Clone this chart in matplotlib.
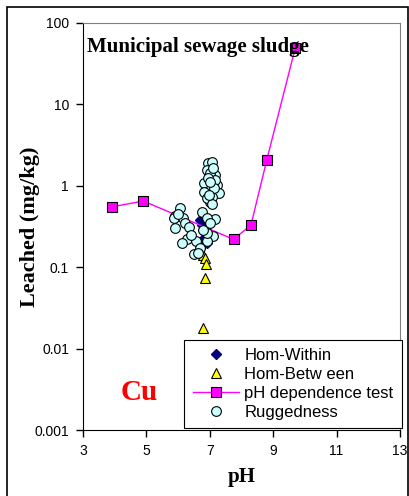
import matplotlib
matplotlib.use("Agg")
import matplotlib.pyplot as plt
from matplotlib.patches import Rectangle

# Hom-Within
hw_ph = [6.70, 6.75, 6.80, 6.85, 6.80, 6.70, 6.90]
hw_val = [0.38, 0.33, 0.29, 0.26, 0.22, 0.17, 0.20]

# Hom-Between
hb_ph = [6.80, 6.84, 6.88, 6.86, 6.78]
hb_val = [0.14, 0.13, 0.11, 0.074, 0.018]

# pH dependence test
ph_ph = [3.9, 4.9, 7.75, 8.3, 8.8, 9.7]
ph_val = [0.55, 0.65, 0.22, 0.33, 2.1, 50.0]

# Ruggedness
rg_ph = [6.94, 7.06, 6.90, 7.16, 7.02, 6.81, 7.02, 7.22, 7.29, 6.81, 7.02, 7.06,
         6.90, 7.16, 7.10, 6.95, 7.12, 7.00, 7.08, 6.98,
         6.06, 5.91, 5.86, 6.17, 6.23, 5.91, 6.33, 6.75, 7.16, 6.90, 7.10, 6.27,
         6.55, 6.90, 6.49, 6.70, 6.90, 6.80, 6.00, 6.12, 6.40, 6.62, 7.00]
rg_val = [1.92, 1.97, 1.57, 1.37, 1.44, 1.09, 0.89, 1.03, 0.82, 0.84, 0.64, 0.73,
          0.71, 1.18, 1.65, 1.25, 0.95, 1.10, 0.60, 0.78,
          0.53, 0.43, 0.40, 0.40, 0.35, 0.30, 0.31, 0.47, 0.39, 0.40, 0.24, 0.22,
          0.21, 0.21, 0.146, 0.17, 0.26, 0.29, 0.45, 0.20, 0.25, 0.15, 0.35]

xticks = [3, 5, 7, 9, 11, 13]
yticks = [0.001, 0.01, 0.1, 1, 10, 100]
ytick_labels = ["0.001", "0.01", "0.1", "1", "10", "100"]

W, H = 409, 496
fig = plt.figure(figsize=(W / 100, H / 100), dpi=100)
ax = fig.add_axes([83 / W, 1 - 430 / H, 317 / W, 407 / H])

ax.plot(hw_ph, hw_val, linestyle="none", marker="D", ms=5, color="#000080",
        mec="#000080", label="Hom-Within")
ax.plot(hb_ph, hb_val, linestyle="none", marker="^", ms=7, color="#FFFF00",
        mec="black", mew=0.8, label="Hom-Betw een")
ax.plot(ph_ph, ph_val, color="#FF00FF", lw=1, marker="s", ms=7,
        mfc="#FF00FF", mec="black", mew=0.8, label="pH dependence test")
ax.plot(rg_ph, rg_val, linestyle="none", marker="o", ms=7, color="#CCFFFF",
        mec="black", mew=0.8, label="Ruggedness")

ax.set_yscale("log")
ax.set_xlim(3, 13)
ax.set_ylim(0.001, 100)
ax.set_xticks(xticks)
ax.set_xticklabels([str(t) for t in xticks], family="Liberation Sans", fontsize=10)
ax.set_yticks(yticks)
ax.set_yticklabels(ytick_labels, family="Liberation Sans", fontsize=10)
ax.yaxis.set_minor_locator(matplotlib.ticker.NullLocator())
ax.tick_params(direction="out", length=5, width=1, color="black", pad=5)

for side in ("top", "right"):
    ax.spines[side].set_color("#808080")
for side in ("left", "bottom"):
    ax.spines[side].set_color("black")

ax.set_xlabel("pH", family="Liberation Serif", fontweight="bold", fontsize=15)
ax.xaxis.set_label_coords(0.5, -0.09)
ax.set_ylabel("Leached (mg/kg)", family="Liberation Serif", fontweight="bold",
              fontsize=16)
ax.yaxis.set_label_coords(-0.137, 0.5)

ax.text(0.013, 0.94, "Municipal sewage sludge", transform=ax.transAxes,
        family="Liberation Serif", fontweight="bold", fontsize=15, va="center", ha="left")
ax.text(0.177, 0.091, "Cu", transform=ax.transAxes, family="Liberation Serif",
        fontweight="bold", fontsize=21, color="red", ha="center", va="center")

leg = ax.legend(loc="lower right", bbox_to_anchor=(1.006, 0.004), fancybox=False,
                edgecolor="black", framealpha=1, prop={"family": "Liberation Sans", "size": 12},
                handlelength=2.8, borderpad=0.5, labelspacing=0.24, handletextpad=0.3,
                borderaxespad=0.0)
leg.get_frame().set_linewidth(0.8)

fig.add_artist(Rectangle((7 / W, -0.01), 401 / W, 1 - 7 / H + 0.01,
                         transform=fig.transFigure, fill=False, edgecolor="black",
                         lw=1.2, clip_on=False))

fig.savefig("out.png", dpi=100)
